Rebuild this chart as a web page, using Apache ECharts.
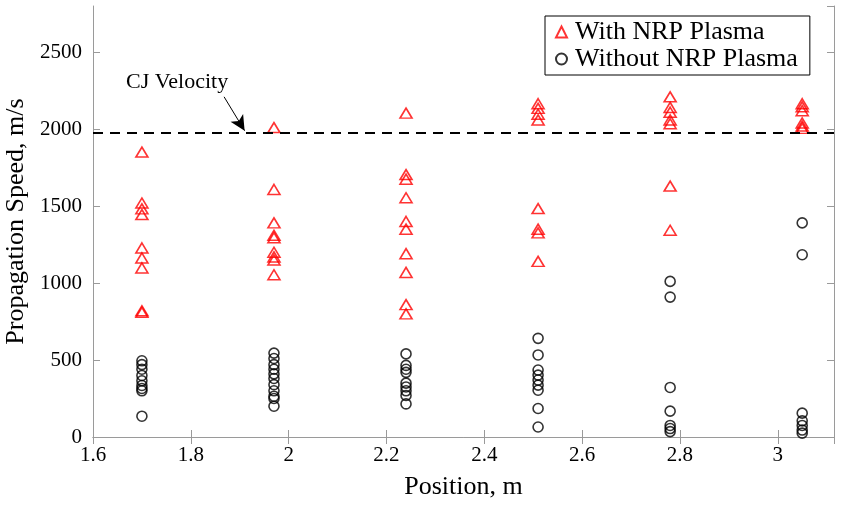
<!DOCTYPE html>
<html>
<head>
<meta charset="utf-8">
<script src="https://cdn.jsdelivr.net/npm/echarts@6/dist/echarts.min.js"></script>
<style>html,body{margin:0;padding:0;background:#fff}#c{width:841px;height:505px}</style>
</head>
<body>
<div id="c"></div>
<script>
const positions = [1.70, 1.97, 2.24, 2.51, 2.78, 3.05];
const withPlasma = [
  [1851, 1520, 1482, 1445, 1228, 1163, 1098, 820, 810],
  [2010, 1608, 1391, 1310, 1295, 1200, 1170, 1150, 1054],
  [2104, 1705, 1675, 1554, 1400, 1350, 1191, 1069, 860, 800],
  [2165, 2135, 2097, 2060, 1484, 1350, 1326, 1141],
  [2210, 2141, 2110, 2060, 2035, 1630, 1343],
  [2165, 2145, 2120, 2040, 2020, 2005]
];
const withoutPlasma = [
  [495, 470, 440, 400, 365, 335, 315, 300, 135],
  [545, 510, 470, 440, 410, 380, 340, 300, 265, 250, 200],
  [540, 465, 440, 420, 350, 325, 300, 270, 215],
  [641, 533, 435, 402, 370, 337, 304, 185, 65],
  [1011, 909, 322, 168, 75, 55, 35],
  [1391, 1184, 155, 105, 75, 45, 25]
];
const cjVelocity = 1975;
const cjLabel = 'CJ Velocity';
const cjArrow = [[1.868, 2210], [1.91, 1990]];
const cjTextPos = [1.772, 2305];
const xTicks = {min: 1.6, max: 3.115, interval: 0.2};
const yTicks = {min: 0, max: 2800, interval: 500};

function toPairs(groups) {
  const out = [];
  groups.forEach((vals, i) => vals.forEach(v => out.push([positions[i], v])));
  return out;
}

const FONT = 'Liberation Serif';
const axisGray = '#9a9a9a';
const baseAxis = {
  type: 'value',
  axisLine: {show: true, lineStyle: {color: axisGray, width: 1}},
  axisTick: {show: true, inside: true, length: 7, lineStyle: {color: axisGray}},
  splitLine: {show: false}
};

const chart = echarts.init(document.getElementById('c'), null, {renderer: 'canvas'});
chart.setOption({
  animation: false,
  backgroundColor: '#fff',
  textStyle: {fontFamily: FONT},
  grid: {left: 93, right: 7, top: 6, bottom: 68, containLabel: false, outerBoundsMode: 'none'},
  legend: {
    left: 545, top: 16, orient: 'vertical',
    padding: [3, 12, 3, 10],
    itemGap: 1, itemWidth: 11, itemHeight: 11,
    borderColor: '#000', borderWidth: 1, backgroundColor: '#fff',
    textStyle: {fontFamily: FONT, fontSize: 26, color: '#000', padding: [0, 0, 0, 3]},
    data: ['With NRP Plasma', 'Without NRP Plasma']
  },
  xAxis: [
    Object.assign({}, baseAxis, xTicks, {
      position: 'bottom',
      name: 'Position, m', nameLocation: 'middle', nameGap: 37,
      nameTextStyle: {fontFamily: FONT, fontSize: 26, color: '#000'},
      axisLabel: {fontFamily: FONT, fontSize: 21, color: '#000', margin: 8, showMaxLabel: false}
    }),
    Object.assign({}, baseAxis, xTicks, {position: 'top', axisLabel: {show: false}})
  ],
  yAxis: [
    Object.assign({}, baseAxis, yTicks, {
      position: 'left',
      name: 'Propagation Speed, m/s', nameLocation: 'middle', nameGap: 58,
      nameTextStyle: {fontFamily: FONT, fontSize: 26, color: '#000'},
      axisLabel: {fontFamily: FONT, fontSize: 21, color: '#000', margin: 11, showMaxLabel: false,
        formatter: v => String(v)}
    }),
    Object.assign({}, baseAxis, yTicks, {position: 'right', axisLabel: {show: false}})
  ],
  series: [
    {
      name: 'With NRP Plasma', type: 'scatter', symbol: 'triangle', symbolSize: [12, 10],
      itemStyle: {color: 'rgba(255,255,255,0)', borderColor: '#ff0000', borderWidth: 1.6},
      data: toPairs(withPlasma), z: 3,
      markLine: {
        silent: true, symbol: ['none', 'none'], animation: false,
        label: {show: false},
        lineStyle: {color: '#000', type: [10, 7], width: 1.8},
        data: [{yAxis: cjVelocity}]
      }
    },
    {
      name: 'Without NRP Plasma', type: 'scatter', symbol: 'circle', symbolSize: 10,
      itemStyle: {color: 'rgba(255,255,255,0)', borderColor: '#000', borderWidth: 1.6},
      data: toPairs(withoutPlasma), z: 3
    },
    {
      name: 'annot', type: 'scatter', data: [], silent: true,
      markLine: {
        silent: true, symbol: ['none', 'arrow'], symbolSize: [11, 15], animation: false,
        label: {show: false},
        lineStyle: {color: '#000', type: 'solid', width: 1},
        data: [[{coord: cjArrow[0]}, {coord: cjArrow[1]}]]
      },
      markPoint: {
        silent: true, symbol: 'circle', symbolSize: 0, animation: false,
        label: {show: true, formatter: cjLabel, position: 'inside', color: '#000', fontFamily: FONT, fontSize: 22},
        data: [{coord: cjTextPos}]
      }
    }
  ]
});
</script>
</body>
</html>
